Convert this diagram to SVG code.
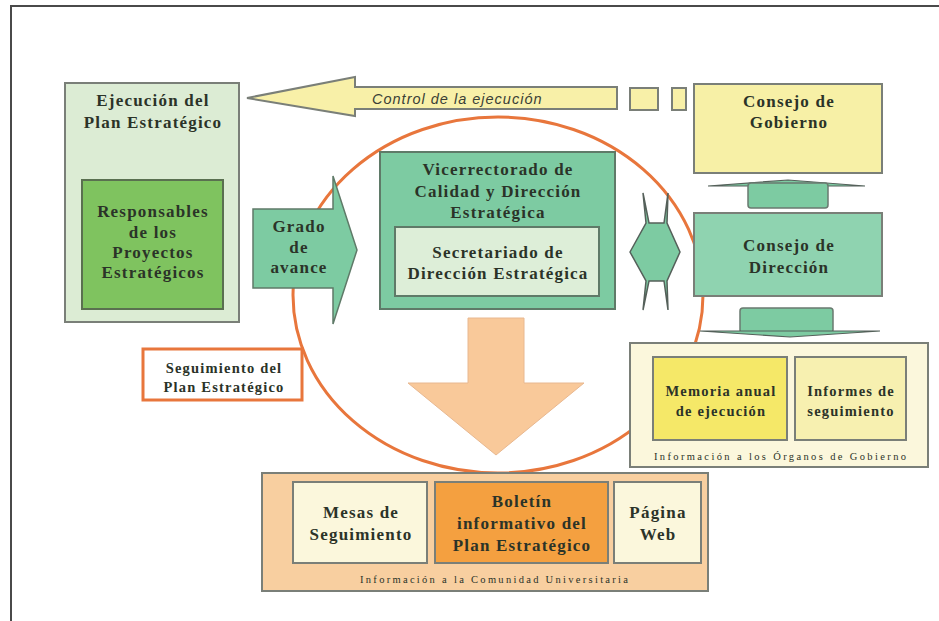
<svg xmlns="http://www.w3.org/2000/svg" width="939" height="621" viewBox="0 0 939 621">
<style>
.t{font-family:"Liberation Serif","Times New Roman",serif;font-size:17px;font-weight:bold;letter-spacing:1.2px;fill:#2b3328;text-anchor:middle}
.s{font-size:14.5px}
.cap{font-family:"Liberation Serif","Times New Roman",serif;font-size:10.5px;fill:#2b3328;text-anchor:middle}
.box{stroke:#7a7f78;stroke-width:2}
</style>
<rect width="939" height="621" fill="#ffffff"/>
<path d="M11,621 L11,6 L939,6" fill="none" stroke="#4a4a4a" stroke-width="2"/>

<g id="circle"><ellipse cx="498" cy="295" rx="205" ry="178" fill="none" stroke="#e8763c" stroke-width="3"/></g>

<g id="connectors">
  <g id="control-arrow">
    <path d="M247,98 L355,77 L355,87 L617,87 L617,109 L355,109 L355,116 Z" fill="#f8f0a8" stroke="#7a7f78" stroke-width="2"/>
    <rect x="630" y="88" width="28" height="22" fill="#f8f0a8" stroke="#7a7f78" stroke-width="2"/>
    <rect x="672" y="88" width="14" height="22" fill="#f8f0a8" stroke="#7a7f78" stroke-width="2"/>
    <text x="372" y="104" style="font-family:'Liberation Sans',Arial,sans-serif;font-style:italic;font-size:14.5px;letter-spacing:1px;fill:#3a3f36">Control de la ejecución</text>
  </g>
  <g id="grado-arrow">
    <path d="M253,209 L333,209 L333,176 L357,250 L333,324 L333,288 L253,288 Z" fill="#7dcba2" stroke="#5f7a68" stroke-width="1.5"/>
    <text class="t" x="299" y="232">Grado</text>
    <text class="t" x="299" y="253">de</text>
    <text class="t" x="299" y="273">avance</text>
  </g>
  <g id="lr-arrow">
    <path d="M630,252 L646,223 L643,193 L649,223 L664,223 L668,193 L667,223 L680,252 L667,281 L668,310 L664,281 L649,281 L643,310 L646,281 Z" fill="#7dcba2" stroke="#55605a" stroke-width="1.5"/>
  </g>
  <g id="ud-arrow-top">
    <path d="M708,186 L788,180 L865,186 Z" fill="#7dcba2" stroke="#55605a" stroke-width="1.2"/>
    <rect x="748" y="183" width="80" height="25" rx="3" fill="#7dcba2" stroke="#6a7a70" stroke-width="1.5"/>
  </g>
  <g id="ud-arrow-bottom">
    <rect x="740" y="308" width="93" height="25" rx="3" fill="#7dcba2" stroke="#6a7a70" stroke-width="1.5"/>
    <path d="M700,331 L880,331 L790,337 Z" fill="#7dcba2" stroke="#55605a" stroke-width="1.2"/>
  </g>
  <g id="down-arrow">
    <path d="M468,318 L524,318 L524,383 L584,383 L496,455 L408,383 L468,383 Z" fill="#f9c99a" stroke="#e8b890" stroke-width="1"/>
  </g>
</g>

<g id="ejecucion">
  <rect class="box" x="65" y="83" width="174" height="239" fill="#dcecd4"/>
  <text class="t" x="153" y="106">Ejecución del</text>
  <text class="t" x="153" y="128">Plan Estratégico</text>
</g>
<g id="responsables">
  <rect x="82" y="180" width="141" height="129" fill="#7fc35f" stroke="#5a7050" stroke-width="2"/>
  <text class="t" x="153" y="217">Responsables</text>
  <text class="t" x="153" y="238">de los</text>
  <text class="t" x="153" y="258">Proyectos</text>
  <text class="t" x="153" y="278">Estratégicos</text>
</g>

<g id="vicerrectorado">
  <rect x="380" y="152" width="235" height="157" fill="#7dcba2" stroke="#5f7a68" stroke-width="2"/>
  <text class="t" x="498" y="175">Vicerrectorado de</text>
  <text class="t" x="498" y="197">Calidad y Dirección</text>
  <text class="t" x="498" y="218">Estratégica</text>
</g>
<g id="secretariado">
  <rect x="395" y="227" width="204" height="69" fill="#ddeed8" stroke="#5f7a68" stroke-width="2"/>
  <text class="t" x="498" y="258">Secretariado de</text>
  <text class="t" x="498" y="279">Dirección Estratégica</text>
</g>

<g id="consejo-gobierno">
  <rect class="box" x="694" y="84" width="188" height="89" fill="#f7f0a6"/>
  <text class="t" x="789" y="107">Consejo de</text>
  <text class="t" x="789" y="128">Gobierno</text>
</g>
<g id="consejo-direccion">
  <rect class="box" x="694" y="213" width="188" height="83" fill="#8fd3b0"/>
  <text class="t" x="789" y="251">Consejo de</text>
  <text class="t" x="789" y="273">Dirección</text>
</g>

<g id="seguimiento">
  <rect x="143" y="349" width="159" height="51" fill="#ffffff" stroke="#e8763c" stroke-width="3"/>
  <text class="t s" x="224" y="373">Seguimiento del</text>
  <text class="t s" x="224" y="392">Plan Estratégico</text>
</g>

<g id="info-organos">
  <rect class="box" x="630" y="343" width="298" height="124" fill="#fbf7dc"/>
  <text class="cap" x="780" y="460" textLength="252" lengthAdjust="spacing">Información a los Órganos de Gobierno</text>
</g>
<g id="memoria">
  <rect class="box" x="653" y="357" width="134" height="83" fill="#f5e868"/>
  <text class="t s" x="721" y="396">Memoria anual</text>
  <text class="t s" x="721" y="416">de ejecución</text>
</g>
<g id="informes">
  <rect class="box" x="795" y="357" width="111" height="83" fill="#f7f0b0"/>
  <text class="t s" x="851" y="396">Informes de</text>
  <text class="t s" x="851" y="416">seguimiento</text>
</g>

<g id="info-comunidad">
  <rect class="box" x="262" y="473" width="446" height="118" fill="#f8cfa0"/>
  <text class="cap" x="494" y="583" textLength="268" lengthAdjust="spacing">Información a la Comunidad Universitaria</text>
</g>
<g id="mesas">
  <rect class="box" x="293" y="482" width="134" height="81" fill="#fbf7dc"/>
  <text class="t" x="361" y="518">Mesas de</text>
  <text class="t" x="361" y="540">Seguimiento</text>
</g>
<g id="boletin">
  <rect class="box" x="435" y="482" width="173" height="81" fill="#f4a040"/>
  <text class="t" x="522" y="507">Boletín</text>
  <text class="t" x="522" y="529">informativo del</text>
  <text class="t" x="522" y="551">Plan Estratégico</text>
</g>
<g id="pagina">
  <rect class="box" x="614" y="482" width="87" height="81" fill="#fbf7dc"/>
  <text class="t" x="658" y="518">Página</text>
  <text class="t" x="658" y="540">Web</text>
</g>
</svg>
